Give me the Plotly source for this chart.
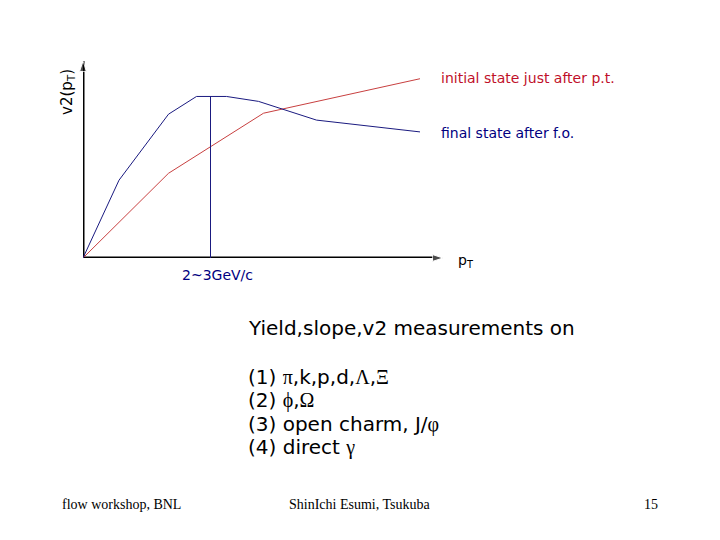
import plotly.graph_objects as go

# ---- data (schematic v2 vs pT) ----
final_pt = [0.0, 0.72, 1.71, 2.27, 2.87, 3.51, 4.67, 6.74]
final_v2 = [0.0, 0.079, 0.146, 0.164, 0.164, 0.159, 0.140, 0.128]
initial_pt = [0.0, 1.71, 3.61, 6.74]
initial_v2 = [0.0, 0.086, 0.147, 0.182]
marker_pt = [2.55, 2.55]
marker_v2 = [0.0, 0.164]
x_max = 7.2
y_max = 0.2

label_initial = "initial state just after p.t."
label_final = "final state after f.o."
label_marker = "2~3GeV/c"
list_title = "Yield,slope,v2 measurements on"
G = "<span style='font-family:Liberation Serif'>{}</span>"
list_items = [
    "(1) " + G.format("π") + ",k,p,d," + G.format("Λ") + "," + G.format("Ξ"),
    "(2) " + G.format("ϕ") + "," + G.format("Ω"),
    "(3) open charm, J/" + G.format("φ"),
    "(4) direct " + G.format("γ"),
]
footer_left = "flow workshop, BNL"
footer_mid = "ShinIchi Esumi, Tsukuba"
footer_right = "15"

BLUE = "#1a1a80"
RED = "#c84040"
RED_TXT = "#c0102a"
BLUE_TXT = "#000080"

OFF = 8  # page body margin
# plot area in screen pixels
L, R, T, B = 83, 443, 61, 258
W, H = 712, 532

def px(x):
    return (x - L) / (R - L)

def py(y):
    return (B - y) / (B - T)

fig = go.Figure()
# axes with arrow heads
fig.add_trace(go.Scatter(x=[0, x_max], y=[0, 0], mode="lines+markers",
                         line=dict(color="black", width=3),
                         marker=dict(symbol="arrow", angleref="previous", size=[0, 11], color="black"),
                         hoverinfo="skip"))
fig.add_trace(go.Scatter(x=[0, 0], y=[0, y_max], mode="lines+markers",
                         line=dict(color="black", width=3),
                         marker=dict(symbol="arrow", angleref="previous", size=[0, 11], color="black"),
                         hoverinfo="skip"))
fig.add_trace(go.Scatter(x=initial_pt, y=initial_v2, mode="lines",
                         line=dict(color=RED, width=1), hoverinfo="skip"))
fig.add_trace(go.Scatter(x=final_pt, y=final_v2, mode="lines",
                         line=dict(color=BLUE, width=1), hoverinfo="skip"))
fig.add_trace(go.Scatter(x=marker_pt, y=marker_v2, mode="lines",
                         line=dict(color=BLUE, width=1), hoverinfo="skip"))

sans = "DejaVu Sans"
serif = "Liberation Serif"

ann = []
def text(x, y, s, size, color="black", family=sans, xanchor="left", angle=0):
    ann.append(dict(x=px(x), y=py(y), xref="paper", yref="paper", text=s,
                    showarrow=False, xanchor=xanchor, yanchor="middle", textangle=angle,
                    font=dict(family=family, size=size, color=color)))

text(439, 78, label_initial, 14, RED_TXT)
text(439, 133, label_final, 14, BLUE_TXT)
text(456, 261, "p<sub>T</sub>", 14)
text(217, 275, label_marker, 14, BLUE_TXT, xanchor="center")
text(67, 92, "v2(p<sub>T</sub>)", 15, angle=-90, xanchor="center")

text(246, 328, list_title, 20)
for i, item in enumerate(list_items):
    text(246, 377 + 23.3 * i, item, 20)

text(60, 504, footer_left, 14, family=serif)
text(359, 504, footer_mid, 14, family=serif, xanchor="center")
text(660, 504, footer_right, 14, family=serif, xanchor="right")

fig.update_layout(
    width=W, height=H,
    margin=dict(l=L - OFF, r=W - (R - OFF), t=T - OFF, b=H - (B - OFF), pad=0),
    paper_bgcolor="white", plot_bgcolor="white",
    showlegend=False,
    xaxis=dict(range=[0, x_max], visible=False, fixedrange=True),
    yaxis=dict(range=[0, y_max], visible=False, fixedrange=True),
    annotations=ann,
)
for tr in fig.data:
    tr.cliponaxis = False

fig.write_html("out.html", config={"displayModeBar": False})
